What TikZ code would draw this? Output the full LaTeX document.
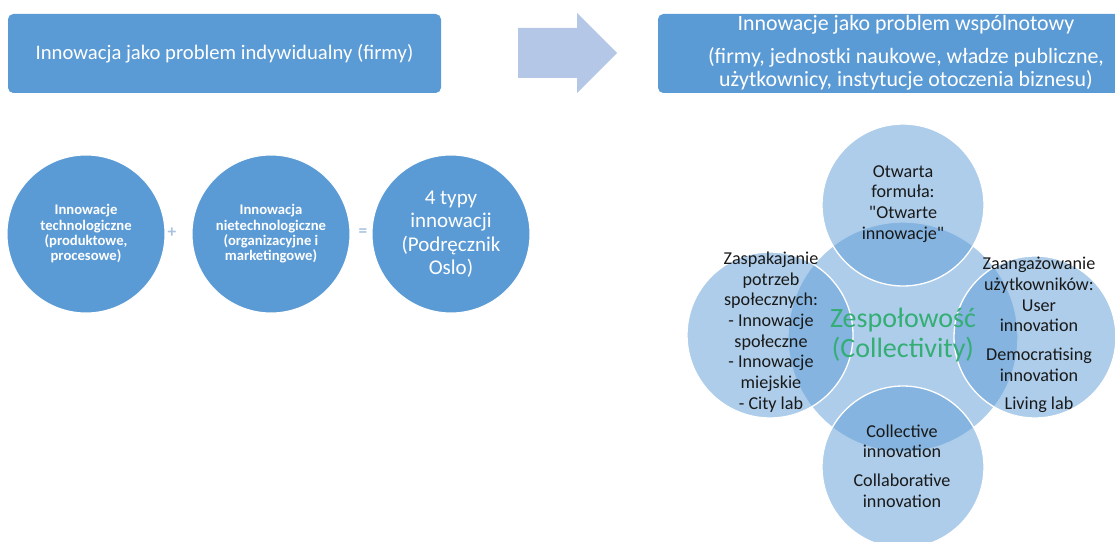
\documentclass[tikz,border=0pt]{standalone}
\usepackage{fontspec}
\setmainfont{Carlito}
\definecolor{accent}{HTML}{5B9BD5}
\definecolor{arrowblue}{HTML}{B4C7E7}
\definecolor{signblue}{HTML}{A9C2E0}
\definecolor{teamgreen}{HTML}{34AE74}
\begin{document}
\begin{tikzpicture}[x = 0.75pt, y = -0.75pt,
        topbox/.style = {fill = accent, rounded corners = 4pt, inner sep = 0pt, minimum height = 59.25pt},
        boxtext/.style = {text = white, align = center},
        eqcircle/.style = {circle, fill = accent, draw = white, line width = 0.8pt, minimum size = 118.5pt, inner sep = 0pt},
        eqtext/.style = {text = white, align = center, font = \fontsize{11}{11.5}\selectfont\bfseries},
        sign/.style = {text = signblue, font = \fontsize{13}{13}\selectfont\bfseries},
        venn/.style = {circle, fill = accent, fill opacity = 0.5, draw = white, draw opacity = 1, line width = 1pt, inner sep = 0pt},
        venntext/.style = {text = black!90, align = center, font = \fontsize{13.6}{15.5}\selectfont}]
    \useasboundingbox (0,0) rectangle (1115,542);
    % top row
    \node[topbox, minimum width = 324.75pt] (ind) at (224.5,53.5) {};
    \node[boxtext, font = \fontsize{15.5}{18}\selectfont] (indtext) at (ind) {Innowacja jako problem indywidualny (firmy)};
    \fill[arrowblue] (518,28) -- (577,28) -- (577,13) -- (617,53) -- (577,93) -- (577,78) -- (518,78) -- cycle;
    \node[topbox, minimum width = 372pt] (wsp) at (906,53.5) {};
    \node[boxtext, font = \fontsize{16.4}{17.3}\selectfont] (wsptext) at (906,53) {Innowacje jako problem wspólnotowy\\[7pt]
        (firmy, jednostki naukowe, władze publiczne,\\ użytkownicy, instytucje otoczenia biznesu)};
    % left: equation of circles
    \node[eqcircle] (tech) at (86,234) {};
    \node[eqcircle] (nontech) at (271,234) {};
    \node[eqcircle] (oslo) at (451,234) {};
    \node[eqtext] at (tech) {Innowacje\\ technologiczne\\ (produktowe,\\ procesowe)};
    \node[eqtext] at (nontech) {Innowacja\\ nietechnologiczne\\ (organizacyjne i\\ marketingowe)};
    \node[text = white, align = center, font = \fontsize{15.75}{17.6}\selectfont] at (oslo) {4 typy\\ innowacji\\ (Podręcznik\\ Oslo)};
    \node[sign] (plus) at (172,233) {+};
    \node[sign] (equals) at (363,233) {=};
    % right: venn of collectivity
    \node[venn, minimum size = 172.5pt] (core) at (903,337) {};
    \node[venn, minimum size = 121.5pt] (open) at (903,205) {};
    \node[venn, minimum size = 121.5pt] (users) at (1035,337) {};
    \node[venn, minimum size = 121.5pt] (collab) at (903,467) {};
    \node[venn, minimum size = 124.5pt] (social) at (770,335) {};
    \begin{scope}[every node/.append style = {venntext}]
        \node (opentext) at (903,204) {Otwarta\\ formuła:\\ \textquotedbl Otwarte\\ innowacje\textquotedbl};
        \node (userstext) at (1039,335) {Zaangażowanie\\ użytkowników:\\ User\\ innovation\\[6pt] Democratising\\ innovation\\[6pt] Living lab};
        \node (collabtext) at (902,466) {Collective\\ innovation\\[6pt] Collaborative\\ innovation};
        \node (socialtext) at (771,332) {Zaspakajanie\\ potrzeb\\ społecznych:\\ - Innowacje\\ społeczne\\ - Innowacje\\ miejskie\\ - City lab};
    \end{scope}
    \node[text = teamgreen, align = center, font = \fontsize{21}{23}\selectfont] (coretext) at (903,335) {Zespołowość\\ (Collectivity)};
\end{tikzpicture}
\end{document}
